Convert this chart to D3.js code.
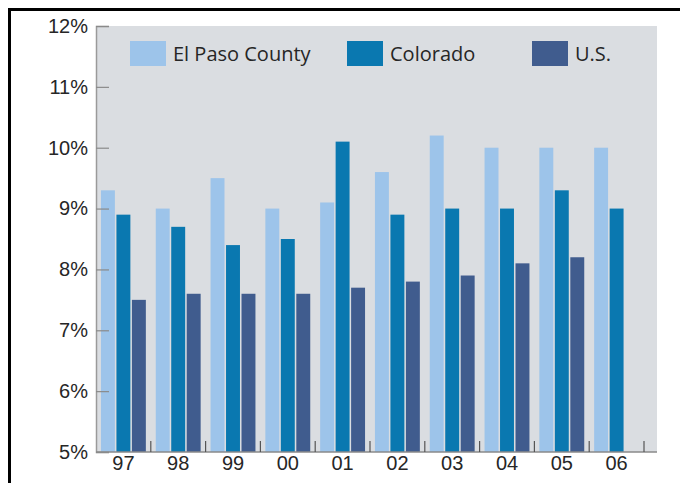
<!DOCTYPE html>
<html>
<head>
<meta charset="utf-8">
<script src="https://cdn.jsdelivr.net/npm/d3@7/dist/d3.min.js"></script>
<style>
  html, body { margin: 0; padding: 0; background: #fff; }
  svg { display: block; font-family: "Open Sans", "Noto Sans", sans-serif; }
</style>
</head>
<body>
<svg id="chart" width="680" height="483"></svg>
<script>
// Unemployment-style rate comparison, 1997–2006
const years = ["97", "98", "99", "00", "01", "02", "03", "04", "05", "06"];
const seriesNames = ["El Paso County", "Colorado", "U.S."];
const elPaso   = [9.3, 9.0, 9.5, 9.0, 9.1, 9.6, 10.2, 10.0, 10.0, 10.0];
const colorado = [8.9, 8.7, 8.4, 8.5, 10.1, 8.9, 9.0, 9.0, 9.3, 9.0];
const us       = [7.5, 7.6, 7.6, 7.6, 7.7, 7.8, 7.9, 8.1, 8.2, null];
const yTicks = [5, 6, 7, 8, 9, 10, 11, 12];
const colors = ["#9dc4ea", "#0a78b0", "#405c8e"];

const seriesValues = [elPaso, colorado, us];

const svg = d3.select("#chart");

// outer frame
svg.append("line").attr("x1", 8).attr("x2", 680).attr("y1", 9.5).attr("y2", 9.5)
  .attr("stroke", "#000").attr("stroke-width", 3);
svg.append("line").attr("x1", 9.5).attr("x2", 9.5).attr("y1", 8).attr("y2", 483)
  .attr("stroke", "#000").attr("stroke-width", 3);

const plot = { left: 96, right: 657, top: 26, bottom: 452 };
const bandEnd = 644;

const x0 = d3.scaleBand().domain(years).range([plot.left, bandEnd]).padding(0);
const x1 = d3.scaleBand().domain(seriesNames).range([0, x0.bandwidth()])
  .paddingInner(0.1).paddingOuter(0.32);
const y = d3.scaleLinear().domain([5, 12]).range([plot.bottom, plot.top]);

// plot background
svg.append("rect")
  .attr("x", plot.left).attr("y", plot.top)
  .attr("width", plot.right - plot.left).attr("height", plot.bottom - plot.top)
  .attr("fill", "#dadde1");

// bars
const rows = [];
years.forEach((yr, i) => {
  seriesNames.forEach((s, j) => {
    const v = seriesValues[j][i];
    if (v != null) rows.push({ yr, s, v, j });
  });
});

svg.append("g").selectAll("rect").data(rows).join("rect")
  .attr("x", d => x0(d.yr) + x1(d.s))
  .attr("width", x1.bandwidth())
  .attr("y", d => y(d.v))
  .attr("height", d => y(5) - y(d.v))
  .attr("fill", d => colors[d.j]);

// y axis
const yAxis = svg.append("g")
  .attr("transform", `translate(${plot.left},0)`)
  .call(d3.axisLeft(y).tickValues(yTicks).tickFormat(d => d + "%")
    .tickSize(-13).tickPadding(8));
yAxis.select(".domain").attr("stroke", "#9a9a9a").attr("stroke-width", 1.5);
yAxis.selectAll(".tick line").attr("stroke", "#8a8a8a").attr("stroke-width", 1.2);
yAxis.selectAll(".tick text").attr("fill", "#262626").style("font-size", "20px");

// x axis
const xAxis = svg.append("g")
  .attr("transform", `translate(0,${plot.bottom})`)
  .call(d3.axisBottom(x0).tickSize(0).tickPadding(4));
xAxis.select(".domain").attr("d", `M${plot.left},0H${plot.right}`)
  .attr("stroke", "#8a8a8a").attr("stroke-width", 1.5);
xAxis.selectAll(".tick text").attr("fill", "#262626").style("font-size", "20px");

// boundary ticks between years
svg.append("g").selectAll("line").data(years).join("line")
  .attr("x1", d => x0(d) + x0.bandwidth())
  .attr("x2", d => x0(d) + x0.bandwidth())
  .attr("y1", plot.bottom).attr("y2", plot.bottom - 11)
  .attr("stroke", "#555").attr("stroke-width", 1.2);

// legend
const legendX = [130, 347, 532];
const legend = svg.append("g").selectAll("g").data(seriesNames).join("g")
  .attr("transform", (d, i) => `translate(${legendX[i]},41)`);
legend.append("rect").attr("width", 36).attr("height", 25)
  .attr("fill", (d, i) => colors[i]);
legend.append("text").attr("x", 43).attr("y", 20)
  .attr("fill", "#262626").style("font-size", "20px")
  .text(d => d);
</script>
</body>
</html>
